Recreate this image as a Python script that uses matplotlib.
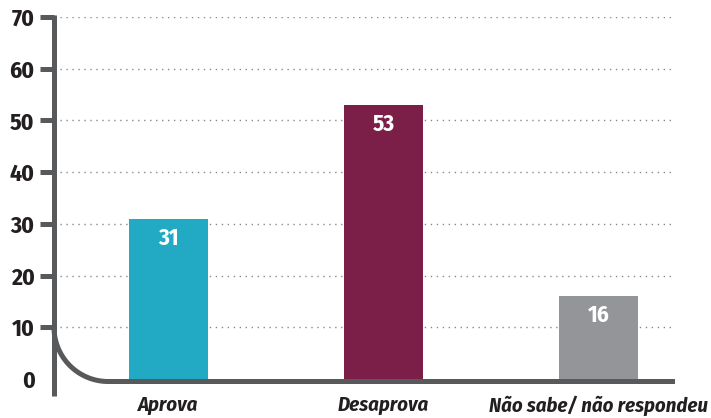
import numpy as np
import matplotlib.pyplot as plt
from matplotlib.lines import Line2D
from matplotlib.transforms import IdentityTransform

plt.rcParams['font.family'] = ['Fira Sans Condensed', 'DejaVu Sans']

categories = ['Aprova', 'Desaprova', 'Não sabe/ não respondeu']
values = [31, 53, 16]
colors = ['#22a9c3', '#7b1f48', '#939598']
yticks = [0, 10, 20, 30, 40, 50, 60, 70]

axis_color = '#58595b'
text_color = '#231f20'

W, H = 711, 418
fig = plt.figure(figsize=(W / 100, H / 100), dpi=100)
# axes placed in pixels: left edge = axis line, y=0 at bar bottom, y=70 at top tick
ax = fig.add_axes([54 / W, (H - 379) / H, (675 - 54) / W, (379 - 17) / H])

x = np.arange(len(categories))
ax.bar(x, values, width=0.367, color=colors, zorder=2)
for xi, v in zip(x, values):
    ax.annotate(str(v), (xi, v), xytext=(0, -14), textcoords='offset points',
                ha='center', va='center', color='white', fontsize=16.5,
                fontweight='bold', zorder=3)

ax.set_xlim(-0.5326, 2.356)
ax.set_ylim(0, 70)
for s in ax.spines.values():
    s.set_visible(False)

ax.set_xticks(x)
ax.set_xticklabels(categories, fontsize=14.8, fontweight='bold', fontstyle='italic',
                   color=text_color)
ax.tick_params(axis='x', length=0, pad=12)

ax.set_yticks(yticks)
ax.set_yticklabels([str(t) for t in yticks], fontsize=17, fontweight='bold',
                   color=text_color)
ax.tick_params(axis='y', length=10, width=3.6, color=axis_color, pad=4)
ax.yaxis.get_major_ticks()[0].tick1line.set_visible(False)

ax.yaxis.grid(True, color='#8a8a8a', linewidth=1.0, linestyle=(0, (1, 3.3)), zorder=1)
ax.set_axisbelow(True)
ax.get_ygridlines()[0].set_visible(False)

# custom axis frame with rounded corner, drawn in pixel coordinates
fig.canvas.draw()
tr = ax.transData
xa = tr.transform((ax.get_xlim()[0], 0))[0]
xr = tr.transform((ax.get_xlim()[1], 0))[0]
y0 = tr.transform((0, 0))[1]
y10 = tr.transform((0, 10))[1]
y70 = tr.transform((0, 70))[1]
lw_px = 5
ybase = y0 - 2.5
r = y10 - ybase

vert = Line2D([xa, xa], [y70 + 2.5, y0 - 17], transform=IdentityTransform(),
              color=axis_color, linewidth=lw_px * 0.72, solid_capstyle='butt', zorder=5)
t = np.linspace(0, np.pi / 2, 60)
cx, cy = xa + r, y10
px = np.concatenate([cx - r * np.cos(t), [xr]])
py = np.concatenate([cy - r * np.sin(t), [ybase]])
curve = Line2D(px, py, transform=IdentityTransform(), color=axis_color,
               linewidth=lw_px * 0.72, solid_capstyle='butt', zorder=5)
fig.add_artist(vert)
fig.add_artist(curve)

fig.savefig('out.png', dpi=100)
